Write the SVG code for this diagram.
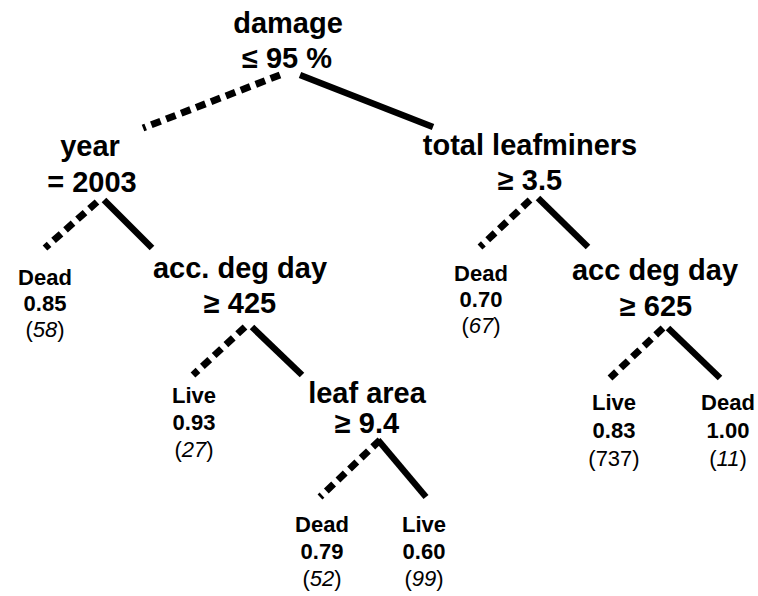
<svg xmlns="http://www.w3.org/2000/svg" width="758" height="596" viewBox="0 0 758 596">
<style>
.big{font-family:"Liberation Sans",Arial,sans-serif;font-weight:bold;font-size:29px;fill:#000;text-anchor:middle}
.sm{font-family:"Liberation Sans",Arial,sans-serif;font-weight:bold;font-size:22px;fill:#000;text-anchor:middle}
.n{font-family:"Liberation Sans",Arial,sans-serif;font-size:22px;fill:#000;text-anchor:middle}
.it{font-style:italic}
.d{stroke:#000;stroke-width:7;stroke-dasharray:10 6;fill:none}
.s{stroke:#000;stroke-width:6.5;fill:none}
</style>
<rect width="758" height="596" fill="#fff"/>
<g id="connectors">
<line class="d" x1="280" y1="75" x2="143" y2="128"/>
<line class="s" x1="300" y1="75" x2="433" y2="127"/>
<line class="d" x1="97" y1="202" x2="45" y2="248"/>
<line class="s" x1="104" y1="200" x2="152" y2="248"/>
<line class="d" x1="245" y1="327" x2="193" y2="375"/>
<line class="s" x1="252" y1="327" x2="302" y2="375"/>
<line class="d" x1="380" y1="440" x2="320" y2="497"/>
<line class="s" x1="378" y1="440" x2="426" y2="497"/>
<line class="d" x1="530" y1="200" x2="480" y2="247"/>
<line class="s" x1="538" y1="198" x2="588" y2="247"/>
<line class="d" x1="663" y1="328" x2="610" y2="378"/>
<line class="s" x1="668" y1="328" x2="720" y2="378"/>
</g>
<g id="n-damage"><text class="big" x="288" y="33">damage</text><text class="big" x="287" y="68">≤ 95 %</text></g>
<g id="n-year"><text class="big" x="90" y="156">year</text><text class="big" x="92" y="192">= 2003</text></g>
<g id="n-dead1"><text class="sm" x="45" y="285">Dead</text><text class="sm" x="45" y="311">0.85</text><text class="n" x="45" y="337">(<tspan class="it">58</tspan>)</text></g>
<g id="n-acc1"><text class="big" x="240" y="278">acc. deg day</text><text class="big" x="240" y="313">≥ 425</text></g>
<g id="n-live1"><text class="sm" x="194" y="403">Live</text><text class="sm" x="194" y="430">0.93</text><text class="n" x="194" y="457">(<tspan class="it">27</tspan>)</text></g>
<g id="n-leaf"><text class="big" x="367" y="403">leaf area</text><text class="big" x="367" y="433">≥ 9.4</text></g>
<g id="n-dead2"><text class="sm" x="322" y="532">Dead</text><text class="sm" x="322" y="559">0.79</text><text class="n" x="322" y="586">(<tspan class="it">52</tspan>)</text></g>
<g id="n-live2"><text class="sm" x="424" y="532">Live</text><text class="sm" x="424" y="559">0.60</text><text class="n" x="424" y="586">(<tspan class="it">99</tspan>)</text></g>
<g id="n-total"><text class="big" x="530" y="155">total leafminers</text><text class="big" x="530" y="190">≥ 3.5</text></g>
<g id="n-dead3"><text class="sm" x="481" y="281">Dead</text><text class="sm" x="481" y="307">0.70</text><text class="n" x="481" y="333">(<tspan class="it">67</tspan>)</text></g>
<g id="n-acc2"><text class="big" x="655" y="280">acc deg day</text><text class="big" x="656" y="316">≥ 625</text></g>
<g id="n-live3"><text class="sm" x="614" y="410">Live</text><text class="sm" x="614" y="438">0.83</text><text class="n" x="614" y="466">(737)</text></g>
<g id="n-dead4"><text class="sm" x="728" y="410">Dead</text><text class="sm" x="728" y="438">1.00</text><text class="n" x="728" y="466">(<tspan class="it">11</tspan>)</text></g>
</svg>
